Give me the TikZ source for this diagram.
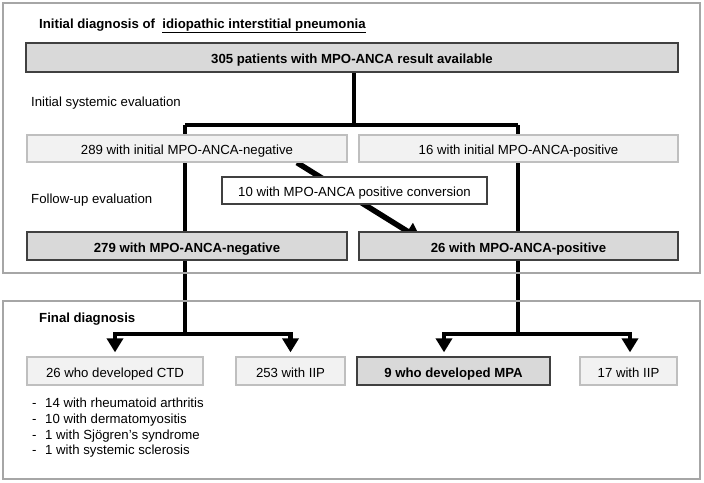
\documentclass[tikz,border=0pt]{standalone}
\usepackage{fontspec}
\setmainfont{Liberation Sans}
\usetikzlibrary{arrows.meta,backgrounds,calc}
\definecolor{framegray}{HTML}{A6A6A6}
\definecolor{boxgray}{HTML}{D9D9D9}
\definecolor{lightfill}{HTML}{F2F2F2}
\definecolor{lightline}{HTML}{BFBFBF}
\definecolor{darkline}{HTML}{404040}
\begin{document}
\begin{tikzpicture}[x=1pt,y=-1pt,
  font=\fontsize{13.2}{16}\selectfont,
  framebox/.style={draw=framegray,line width=2.5pt,inner sep=0pt},
  boxbase/.style={inner sep=0pt,text height=13.5pt,text depth=1pt},
  lightbox/.style={boxbase,draw=lightline,fill=lightfill,line width=1.3pt},
  darkbox/.style={boxbase,draw=darkline,fill=boxgray,line width=1.3pt,font=\fontsize{13.2}{16}\selectfont\bfseries},
  convbox/.style={boxbase,draw=darkline,fill=white,line width=1.2pt},
  conn/.style={line width=4.5pt},
  downarrow/.style={conn,-{Triangle[width=16pt,length=14pt]},shorten >=4pt},
  diagarrow/.style={line width=5.5pt,-{Triangle[width=19pt,length=17pt]}},
  lbl/.style={anchor=west,boxbase},
  hdr/.style={anchor=west,boxbase,font=\fontsize{13.2}{16}\selectfont\bfseries}
]
\useasboundingbox (0,0) rectangle (704,482);

% frames
\node[framebox,minimum width=697pt,minimum height=270pt] (topframe) at (351.5,138) {};
\node[framebox,minimum width=697pt,minimum height=178pt] (botframe) at (351.5,390) {};

% labels
\node[hdr] (title) at (39,22) {Initial diagnosis of\ \ \underline{idiopathic interstitial pneumonia}};
\node[lbl] (initeval) at (31,100) {Initial systemic evaluation};
\node[lbl] (followeval) at (31,197) {Follow-up evaluation};
\node[hdr] (finaldx) at (39,316) {Final diagnosis};

% boxes
\node[darkbox,minimum width=652pt,minimum height=29pt] (n305) at (352,57.5) {305 patients with MPO-ANCA result available};
\node[lightbox,minimum width=320pt,minimum height=27pt] (n289) at (187,148.5) {289 with initial MPO-ANCA-negative};
\node[lightbox,minimum width=319pt,minimum height=27pt] (n16) at (518.5,148.5) {16 with initial MPO-ANCA-positive};
\node[darkbox,minimum width=320pt,minimum height=28pt] (n279) at (187,246) {279 with MPO-ANCA-negative};
\node[darkbox,minimum width=319pt,minimum height=28pt] (n26) at (518.5,246) {26 with MPO-ANCA-positive};
\node[lightbox,minimum width=176pt,minimum height=28pt] (ctd) at (115,371) {26 who developed CTD};
\node[lightbox,minimum width=109pt,minimum height=28pt] (iipA) at (290.5,371) {253 with IIP};
\node[darkbox,minimum width=193pt,minimum height=28pt] (mpa) at (453.5,371) {9 who developed MPA};
\node[lightbox,minimum width=97pt,minimum height=28pt] (iipB) at (628.5,371) {17 with IIP};

% list
\node[lbl] (da) at (32,401) {-};
\node[lbl] (la) at (45,401) {14 with rheumatoid arthritis};
\node[lbl] (db) at (32,417) {-};
\node[lbl] (lb) at (45,417) {10 with dermatomyositis};
\node[lbl] (dc) at (32,433) {-};
\node[lbl] (lc) at (45,433) {1 with Sjögren's syndrome};
\node[lbl] (dd) at (32,448) {-};
\node[lbl] (ld) at (45,448) {1 with systemic sclerosis};

% junction coordinates
\coordinate (jt) at (354,125);
\coordinate (jL) at (185,125);
\coordinate (jR) at (518,125);
\coordinate (bL) at (185,334);
\coordinate (bR) at (518,334);
\coordinate (conv) at ($(n289.south)+(110,0)$);
\coordinate (convend) at ($(n26.north)+(-96.5,9)$);

\begin{pgfonlayer}{background}
  \fill[white] (0,0) rectangle (704,482);
  \draw[conn] (jt |- n305.south) -- (jt);
  \draw[conn] (jL) -- (jR);
  \draw[conn] (jL) -- (bL);
  \draw[conn] (jR) -- (bR);
  \draw[downarrow] (bL) -| (ctd.north);
  \draw[downarrow] (bL) -| (iipA.north);
  \draw[downarrow] (bR) -| ([xshift=-9.5pt]mpa.north);
  \draw[downarrow] (bR) -| ([xshift=1.5pt]iipB.north);
  \draw[diagarrow] (conv) -- (convend);
\end{pgfonlayer}

\node[convbox,minimum width=265pt,minimum height=27pt] (n10) at (354.5,190.5) {10 with MPO-ANCA positive conversion};
\end{tikzpicture}
\end{document}
